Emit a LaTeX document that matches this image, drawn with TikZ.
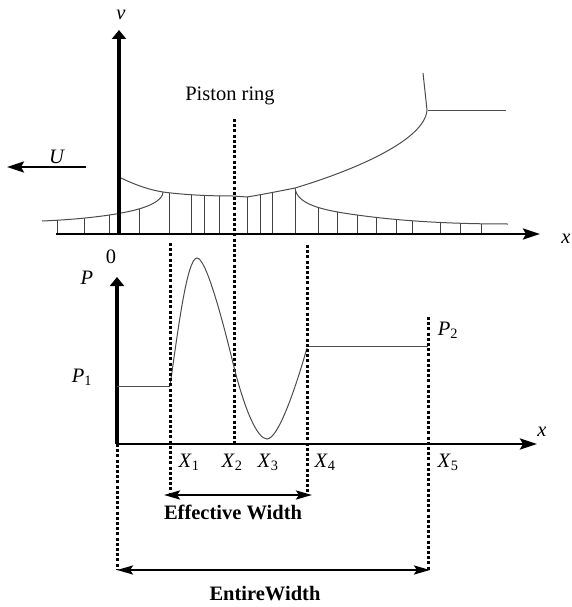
\documentclass[tikz,border=0pt]{standalone}
\usepackage{fontspec}
\setmainfont{Liberation Serif}
\usetikzlibrary{arrows.meta}

\begin{document}
\begin{tikzpicture}[x=1pt, y=-1pt,
    lbl/.style={inner sep=0pt, font=\fontsize{20.5}{22}\selectfont},
    boldlbl/.style={inner sep=0pt, font=\fontsize{20.5}{22}\selectfont\bfseries},
    yaxis/.style={line width=3.5pt, -{Triangle[length=9pt,width=14pt]}},
    xaxis/.style={line width=2.8pt, -{Stealth[length=17pt,width=11pt,inset=3pt]}},
    curve/.style={draw=black!70, line width=1pt},
    tick/.style={draw=black!75, line width=1pt},
    dots/.style={line width=3pt, dash pattern=on 3pt off 2.2pt},
    dimarrow/.style={line width=2.5pt, {Stealth[length=16pt,width=9pt,inset=3pt]}-{Stealth[length=16pt,width=9pt,inset=3pt]}}
]
\useasboundingbox (0,0) rectangle (571,607);

% Coordenadas de los ejes
\coordinate (O)    at (119,234);
\coordinate (vtop) at (119,30);
\coordinate (xs)   at (56,234);
\coordinate (xe)   at (540,234);
\coordinate (Q)    at (117,444);
\coordinate (ptop) at (117,277);
\coordinate (pe)   at (537,444);

% Marcas verticales (recortadas por la pelicula)
\begin{scope}
\clip (42,234) -- (42,221) .. controls (90,219) and (135,213) .. (152,204)
  .. controls (160,200) and (163,196) .. (163,192)
  .. controls (185,195) and (210,196) .. (233,196) -- (247,197)
  .. controls (265,194) and (280,191) .. (295,188)
  .. controls (297,204) and (320,210) .. (357,215)
  .. controls (400,221) and (450,224) .. (508,224) -- (508,234) -- cycle;
\foreach \x in {57,84,109,139,169,191,204,219,247,260,272,295,318,337,357,376,396,412,440,460,481}
  \draw[tick] (\x,234) -- (\x,150);
\end{scope}

% Perfil del anillo y pelicula
\draw[curve] (42,221) .. controls (90,219) and (135,213) .. (152,204)
  .. controls (160,200) and (163,196) .. (163,192);
\draw[curve] (119,177) .. controls (135,185) and (150,190) .. (163,192)
  .. controls (185,195) and (210,196) .. (233,196) -- (247,197)
  .. controls (265,194) and (280,191) .. (295,188)
  .. controls (355,170) and (425,140) .. (427,110) -- (423,73);
\draw[curve] (428,111) -- (506,111);
\draw[curve] (295,188) .. controls (297,204) and (320,210) .. (357,215)
  .. controls (400,221) and (450,224) .. (508,224);

% Ejes superiores
\draw[yaxis] (O) -- (vtop);
\draw[xaxis] (xs) -- (xe);
\node[lbl] (v) at (121,15) {\textit{v}};
\node[lbl] (x1) at (566,239) {\textit{x}};
\node[lbl] (zero) at (111,257) {0};

% Velocidad U
\coordinate (us) at (86,167);
\coordinate (ue) at (7,167);
\draw[line width=2.5pt, -{Stealth[length=17pt,width=11pt,inset=3pt]}] (us) -- (ue);
\node[lbl] (U) at (57,157) {\textit{U}};

% Anillo
\node[lbl] (ring) at (230,96) {Piston ring};
\coordinate (r1) at (234,119);
\coordinate (r2) at (234,444);
\draw[dots] (r1) -- (r2);

% Ejes inferiores
\draw[yaxis, line width=4pt] (Q) -- (ptop);
\draw[xaxis] (Q) -- (pe);
\node[lbl] (P) at (87,278) {\textit{P}};
\node[lbl] (x2) at (542,432) {\textit{x}};

% Presiones
\coordinate (p1a) at (117,386);
\coordinate (p1b) at (170,386);
\coordinate (p2a) at (307,346);
\coordinate (p2b) at (428,346);
\draw[curve] (p1a) -- (p1b);
\draw[curve] (p2a) -- (p2b);
\draw[curve] (p1b) .. controls (178,330) and (187,258) .. (197,258)
  .. controls (206,258) and (222,318) .. (233,363)
  .. controls (244,408) and (257,439) .. (267,439)
  .. controls (278,439) and (295,390) .. (307,348);
\node[lbl] (P1) at (82,377) {\textit{P}\textsubscript{1}};
\node[lbl] (P2) at (448,330) {\textit{P}\textsubscript{2}};

% Lineas punteadas
\coordinate (a1) at (170,243);
\coordinate (a2) at (170,493);
\coordinate (b1) at (307,245);
\coordinate (b2) at (307,493);
\coordinate (c1) at (428,317);
\coordinate (c2) at (428,570);
\coordinate (d2) at (117,570);
\draw[dots] (a1) -- (a2);
\draw[dots] (b1) -- (b2);
\draw[dots] (c1) -- (c2);
\draw[dots] (Q) -- (d2);

% Posiciones X
\node[lbl] (X1) at (189,462) {\textit{X}\textsubscript{1}};
\node[lbl] (X2) at (232,462) {\textit{X}\textsubscript{2}};
\node[lbl] (X3) at (268,462) {\textit{X}\textsubscript{3}};
\node[lbl] (X4) at (325,462) {\textit{X}\textsubscript{4}};
\node[lbl] (X5) at (448,462) {\textit{X}\textsubscript{5}};

% Anchos
\coordinate (e1) at (164,495);
\coordinate (e2) at (312,495);
\coordinate (f1) at (117,570);
\coordinate (f2) at (430,570);
\draw[dimarrow] (e1) -- (e2);
\draw[dimarrow] (f1) -- (f2);
\node[boldlbl] (eff) at (233,512) {Effective Width};
\node[boldlbl] (ent) at (265,594) {EntireWidth};
\end{tikzpicture}
\end{document}
